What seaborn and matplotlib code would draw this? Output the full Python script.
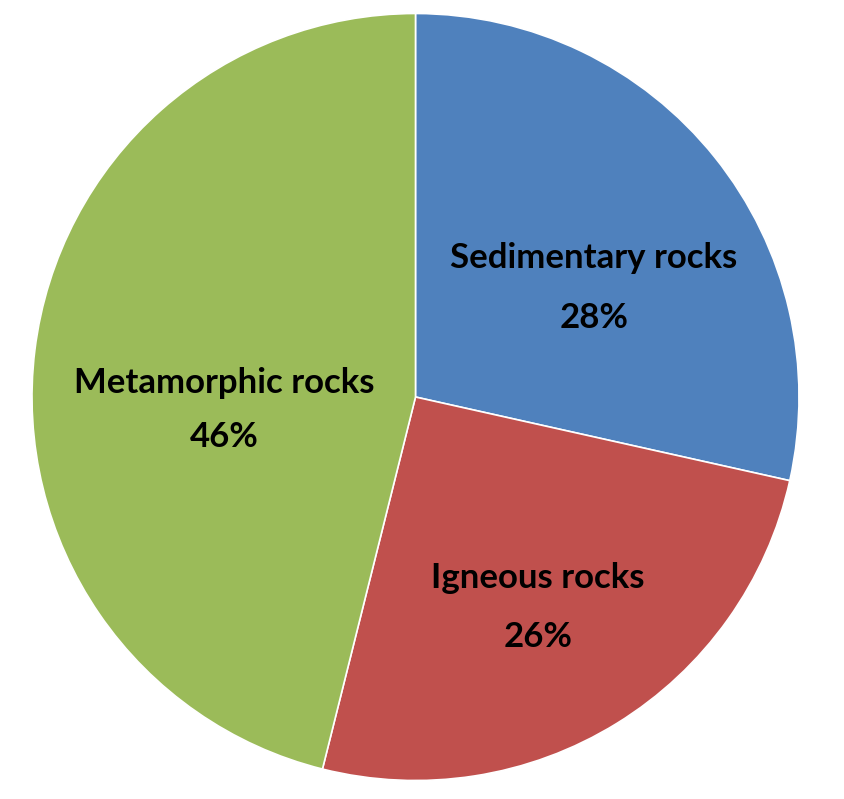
import matplotlib
matplotlib.use("Agg")
import matplotlib.pyplot as plt
import seaborn as sns

categories = ["Sedimentary rocks", "Igneous rocks", "Metamorphic rocks"]
# slice sizes as measured from the wedge angles in the picture
values = [28.5, 25.4, 46.1]
# percentage labels as printed on the chart
pct_labels = ["28%", "26%", "46%"]
colors = ["#4F81BD", "#C0504D", "#9BBB59"]

sns.set_theme(style="white")
plt.rcParams['font.family'] = ['Lato', 'DejaVu Sans']

W, H = 844, 799
fig = plt.figure(figsize=(W / 100, H / 100), dpi=100)
ax = fig.add_axes([0, 0, 1, 1])

cx, cy, r = 415.5, 397, 383.5
# y axis is inverted below, so startangle=-90 points up and
# counterclock=True runs clockwise on screen
wedges, _ = ax.pie(values, colors=colors, startangle=-90, counterclock=True,
                   center=(cx, cy), radius=r, frame=True,
                   wedgeprops=dict(edgecolor="white", linewidth=1.2))
ax.set_xlim(0, W)
ax.set_ylim(H, 0)
ax.axis("off")
ax.set_aspect("equal")

label_pos = [(594, 258, 318), (538, 578, 637), (224, 383, 437)]
for cat, pct, (x, y1, y2) in zip(categories, pct_labels, label_pos):
    ax.text(x, y1, cat, ha="center", va="center", fontsize=25, fontweight="bold", color="black")
    ax.text(x, y2, pct, ha="center", va="center", fontsize=25, fontweight="bold", color="black")

fig.savefig("out.png", dpi=100, facecolor="white")
